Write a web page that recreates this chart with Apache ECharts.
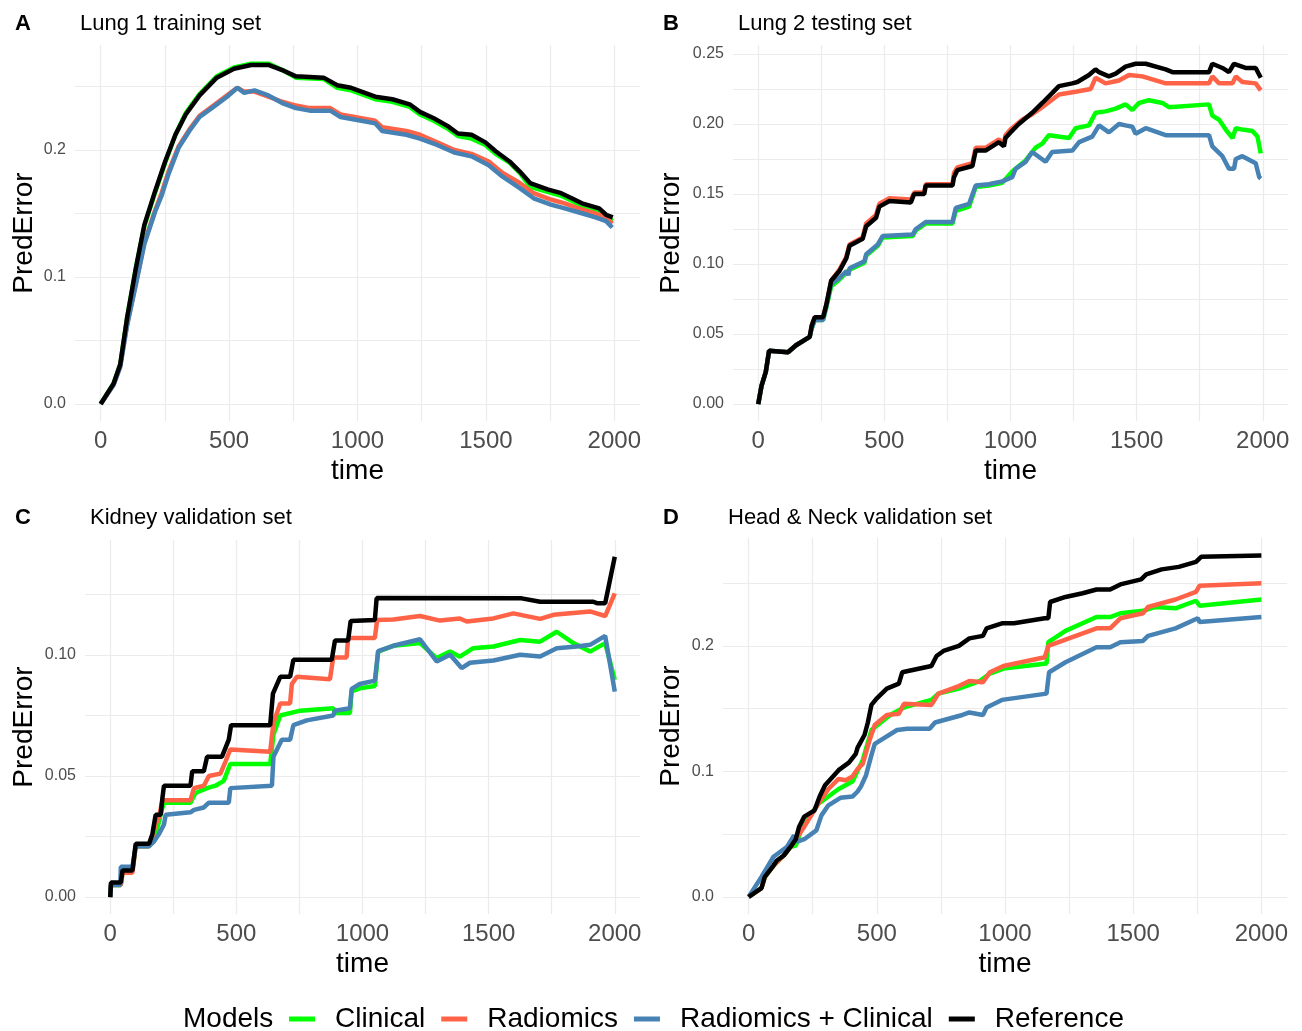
<!DOCTYPE html>
<html>
<head>
<meta charset="utf-8">
<script src="https://cdn.jsdelivr.net/npm/echarts@6/dist/echarts.min.js"></script>
<style>
  html, body { margin: 0; padding: 0; background: #fff; }
  #chart { width: 1302px; height: 1031px; }
</style>
</head>
<body>
<div id="chart"></div>
<script>
var modelNames = ['Clinical', 'Radiomics', 'Radiomics + Clinical', 'Reference'];
var modelColors = ['#00ff00', '#ff6347', '#4682b4', '#000000'];

// x axis: grid lines every 250, labels every 500
var timeTicks = [0, 250, 500, 750, 1000, 1250, 1500, 1750, 2000];
var timeLabels = [0, 500, 1000, 1500, 2000];

var yTicksTenth = [0, 0.05, 0.1, 0.15, 0.2, 0.25];
var yLabelsTenth = [0, 0.1, 0.2];
var yTicksLung2 = [0, 0.025, 0.05, 0.075, 0.1, 0.125, 0.15, 0.175, 0.2, 0.225, 0.25];
var yLabelsLung2 = [0, 0.05, 0.1, 0.15, 0.2, 0.25];
var yTicksKidney = [0, 0.025, 0.05, 0.075, 0.1, 0.125];
var yLabelsKidney = [0, 0.05, 0.1];

// A - Lung 1 training set  [time, PredError]
var lung1Clinical = [[0,0],[50,0.016],[76,0.031],[103,0.068],[137,0.107],[170,0.140],[211,0.166],[251,0.190],[291,0.212],[331,0.229],[385,0.244],[452,0.258],[519,0.265],[586,0.268],[653,0.268],[707,0.263],[760,0.257],[868,0.256],[921,0.249],[975,0.247],[1029,0.243],[1069,0.240],[1136,0.238],[1203,0.234],[1243,0.228],[1297,0.223],[1350,0.217],[1391,0.211],[1444,0.209],[1498,0.204],[1538,0.197],[1592,0.190],[1632,0.182],[1672,0.171],[1740,0.167],[1793,0.164],[1834,0.160],[1874,0.156],[1941,0.152],[1968,0.147],[1994,0.144]];
var lung1Radiomics = [[0,0],[50,0.015],[76,0.030],[103,0.063],[137,0.095],[170,0.127],[211,0.152],[237,0.166],[264,0.183],[304,0.203],[345,0.216],[385,0.227],[439,0.235],[492,0.243],[532,0.249],[559,0.246],[599,0.246],[653,0.242],[707,0.238],[760,0.235],[814,0.233],[894,0.233],[934,0.228],[1015,0.225],[1069,0.223],[1096,0.218],[1190,0.215],[1243,0.212],[1310,0.206],[1377,0.200],[1444,0.197],[1511,0.191],[1565,0.182],[1632,0.174],[1686,0.166],[1753,0.161],[1807,0.158],[1860,0.154],[1927,0.150],[1968,0.147],[1992,0.142]];
var lung1Combined = [[0,0],[50,0.015],[76,0.029],[103,0.062],[137,0.094],[170,0.126],[211,0.151],[237,0.164],[264,0.181],[304,0.202],[345,0.215],[385,0.226],[439,0.234],[492,0.242],[532,0.249],[559,0.245],[599,0.247],[653,0.243],[707,0.237],[760,0.233],[814,0.231],[894,0.231],[934,0.226],[1015,0.223],[1069,0.221],[1096,0.215],[1190,0.212],[1243,0.209],[1310,0.204],[1377,0.198],[1444,0.195],[1511,0.188],[1565,0.179],[1632,0.170],[1686,0.162],[1753,0.157],[1807,0.154],[1860,0.151],[1927,0.147],[1968,0.144],[1992,0.139]];
var lung1Reference = [[0,0],[50,0.016],[76,0.031],[103,0.068],[137,0.107],[170,0.141],[211,0.167],[251,0.191],[291,0.212],[331,0.228],[385,0.243],[452,0.257],[519,0.264],[586,0.267],[653,0.267],[707,0.263],[760,0.258],[868,0.257],[921,0.251],[975,0.249],[1029,0.245],[1069,0.242],[1136,0.240],[1203,0.236],[1243,0.230],[1297,0.225],[1350,0.219],[1391,0.213],[1444,0.212],[1498,0.206],[1538,0.199],[1592,0.191],[1632,0.183],[1672,0.174],[1740,0.169],[1793,0.166],[1834,0.162],[1874,0.158],[1941,0.154],[1968,0.149],[1994,0.147]];

// B - Lung 2 testing set
var lung2Clinical = [[0,0],[13,0.013],[30,0.023],[43,0.038],[118,0.037],[150,0.042],[204,0.048],[212,0.054],[224,0.060],[257,0.060],[270,0.069],[289,0.084],[322,0.089],[362,0.096],[421,0.101],[428,0.106],[474,0.113],[493,0.119],[612,0.120],[625,0.124],[664,0.129],[770,0.129],[783,0.138],[836,0.141],[862,0.155],[914,0.156],[967,0.158],[1007,0.166],[1060,0.174],[1099,0.183],[1126,0.186],[1152,0.192],[1232,0.190],[1258,0.197],[1311,0.199],[1337,0.208],[1377,0.209],[1417,0.211],[1456,0.214],[1483,0.210],[1509,0.215],[1549,0.217],[1602,0.215],[1628,0.212],[1787,0.214],[1800,0.206],[1827,0.203],[1853,0.196],[1880,0.190],[1893,0.197],[1919,0.196],[1959,0.195],[1979,0.191],[1992,0.179]];
var lung2Radiomics = [[0,0],[13,0.013],[30,0.023],[43,0.038],[118,0.037],[150,0.042],[204,0.048],[212,0.056],[224,0.062],[257,0.062],[270,0.071],[289,0.088],[322,0.096],[349,0.105],[362,0.114],[414,0.119],[428,0.129],[467,0.135],[480,0.143],[520,0.147],[605,0.146],[618,0.151],[658,0.151],[664,0.157],[770,0.157],[776,0.165],[789,0.169],[849,0.172],[862,0.183],[901,0.183],[954,0.189],[974,0.186],[980,0.192],[1000,0.196],[1046,0.203],[1086,0.207],[1126,0.212],[1192,0.221],[1258,0.223],[1318,0.225],[1337,0.233],[1377,0.229],[1430,0.231],[1470,0.235],[1523,0.234],[1615,0.229],[1787,0.229],[1800,0.234],[1827,0.229],[1880,0.229],[1893,0.234],[1919,0.230],[1972,0.229],[1992,0.224]];
var lung2Combined = [[0,0],[13,0.013],[30,0.023],[43,0.038],[118,0.037],[150,0.042],[204,0.048],[212,0.054],[224,0.060],[257,0.060],[270,0.070],[289,0.086],[322,0.090],[350,0.095],[358,0.092],[362,0.097],[421,0.102],[428,0.107],[474,0.114],[493,0.120],[612,0.121],[625,0.125],[664,0.130],[770,0.130],[783,0.140],[836,0.143],[862,0.156],[914,0.157],[967,0.159],[1007,0.162],[1020,0.168],[1060,0.173],[1086,0.180],[1139,0.173],[1165,0.180],[1245,0.181],[1272,0.187],[1324,0.191],[1351,0.199],[1390,0.194],[1430,0.200],[1456,0.199],[1483,0.198],[1496,0.193],[1536,0.197],[1615,0.192],[1787,0.192],[1800,0.184],[1840,0.177],[1866,0.168],[1886,0.168],[1893,0.175],[1919,0.177],[1972,0.172],[1986,0.162],[1992,0.161]];
var lung2Reference = [[0,0],[13,0.013],[30,0.023],[43,0.038],[118,0.037],[150,0.042],[204,0.048],[212,0.056],[224,0.062],[257,0.062],[270,0.071],[289,0.088],[322,0.095],[349,0.104],[362,0.113],[414,0.118],[428,0.127],[467,0.133],[480,0.141],[520,0.145],[605,0.144],[618,0.150],[658,0.150],[664,0.156],[770,0.156],[776,0.162],[789,0.167],[849,0.170],[862,0.181],[901,0.181],[954,0.187],[974,0.184],[980,0.190],[1000,0.194],[1033,0.200],[1086,0.208],[1126,0.215],[1165,0.222],[1192,0.227],[1245,0.229],[1265,0.230],[1311,0.235],[1337,0.239],[1351,0.237],[1390,0.234],[1417,0.236],[1456,0.241],[1496,0.243],[1536,0.243],[1615,0.239],[1642,0.237],[1787,0.237],[1800,0.243],[1840,0.240],[1866,0.237],[1886,0.243],[1932,0.240],[1972,0.240],[1992,0.233]];

// C - Kidney validation set
var kidneyClinical = [[0,0],[3,0.005],[42,0.005],[49,0.011],[88,0.011],[101,0.021],[154,0.021],[174,0.024],[193,0.031],[207,0.037],[213,0.039],[318,0.039],[338,0.043],[384,0.045],[417,0.046],[450,0.048],[476,0.055],[634,0.055],[647,0.067],[674,0.075],[753,0.077],[884,0.078],[891,0.076],[950,0.076],[957,0.085],[989,0.0862],[1049,0.0872],[1062,0.1014],[1122,0.1038],[1228,0.1049],[1294,0.0987],[1347,0.1014],[1386,0.0993],[1439,0.1028],[1519,0.1035],[1625,0.1062],[1704,0.1055],[1770,0.1096],[1836,0.1049],[1902,0.1014],[1962,0.1049],[2000,0.0897]];
var kidneyRadiomics = [[0,0],[3,0.005],[42,0.005],[49,0.010],[88,0.010],[101,0.021],[154,0.021],[167,0.025],[180,0.030],[193,0.033],[207,0.040],[318,0.040],[332,0.045],[371,0.046],[391,0.050],[437,0.051],[457,0.056],[476,0.061],[634,0.060],[647,0.072],[674,0.080],[713,0.080],[720,0.088],[740,0.091],[871,0.090],[884,0.099],[937,0.099],[943,0.107],[1049,0.107],[1058,0.1145],[1122,0.1147],[1228,0.1161],[1307,0.1142],[1386,0.1151],[1413,0.1138],[1519,0.1151],[1598,0.1172],[1704,0.1149],[1757,0.1166],[1902,0.118],[1962,0.1161],[2000,0.1255]];
var kidneyCombined = [[0,0],[3,0.005],[40,0.005],[42,0.0125],[88,0.0125],[101,0.021],[154,0.021],[174,0.023],[193,0.026],[213,0.030],[220,0.034],[318,0.035],[332,0.036],[371,0.037],[391,0.039],[470,0.039],[476,0.045],[641,0.046],[647,0.058],[680,0.065],[713,0.065],[726,0.071],[779,0.073],[884,0.075],[891,0.077],[950,0.078],[957,0.086],[989,0.088],[1049,0.0894],[1062,0.1016],[1122,0.1038],[1228,0.1065],[1294,0.0973],[1347,0.1001],[1393,0.0946],[1426,0.0968],[1519,0.0977],[1625,0.1001],[1704,0.0994],[1770,0.1028],[1849,0.1035],[1902,0.1042],[1962,0.1079],[2000,0.0849]];
var kidneyReference = [[0,0],[3,0.006],[42,0.006],[49,0.011],[88,0.011],[101,0.022],[154,0.022],[167,0.026],[180,0.034],[200,0.034],[207,0.041],[213,0.046],[318,0.046],[325,0.052],[371,0.052],[384,0.058],[443,0.058],[470,0.065],[479,0.071],[634,0.071],[645,0.084],[674,0.091],[713,0.091],[726,0.098],[878,0.098],[891,0.106],[943,0.106],[953,0.114],[1049,0.1145],[1056,0.1235],[1631,0.1234],[1704,0.122],[1915,0.122],[1929,0.1214],[1962,0.1214],[2000,0.1406]];

// D - Head & Neck validation set
var hnClinical = [[0,0],[50,0.007],[63,0.016],[97,0.025],[137,0.033],[164,0.040],[184,0.041],[204,0.053],[271,0.074],[351,0.086],[405,0.092],[445,0.109],[479,0.133],[552,0.145],[606,0.151],[713,0.157],[740,0.162],[820,0.166],[901,0.172],[941,0.178],[994,0.182],[1162,0.186],[1169,0.203],[1236,0.212],[1357,0.223],[1410,0.223],[1450,0.226],[1538,0.228],[1585,0.231],[1665,0.230],[1745,0.236],[1759,0.232],[2000,0.237]];
var hnRadiomics = [[0,0],[50,0.007],[63,0.016],[97,0.025],[137,0.033],[164,0.040],[197,0.050],[217,0.056],[271,0.074],[311,0.086],[351,0.094],[378,0.093],[405,0.096],[425,0.102],[445,0.106],[472,0.125],[492,0.137],[539,0.145],[586,0.146],[606,0.154],[713,0.153],[740,0.162],[820,0.168],[861,0.172],[914,0.171],[941,0.179],[994,0.184],[1155,0.191],[1169,0.200],[1357,0.214],[1410,0.214],[1450,0.222],[1538,0.226],[1558,0.231],[1665,0.237],[1745,0.243],[1759,0.248],[2000,0.250]];
var hnCombined = [[0,0],[50,0.016],[97,0.032],[150,0.040],[177,0.049],[190,0.044],[217,0.046],[264,0.053],[284,0.065],[311,0.073],[358,0.079],[405,0.080],[425,0.084],[438,0.088],[458,0.097],[479,0.113],[492,0.122],[579,0.133],[619,0.134],[706,0.134],[727,0.139],[834,0.145],[861,0.147],[914,0.145],[928,0.151],[988,0.157],[1162,0.162],[1172,0.179],[1236,0.187],[1357,0.199],[1410,0.199],[1450,0.203],[1538,0.204],[1558,0.208],[1665,0.214],[1752,0.222],[1759,0.219],[2000,0.223]];
var hnReference = [[0,0],[50,0.007],[63,0.016],[97,0.025],[110,0.029],[137,0.033],[164,0.040],[184,0.046],[197,0.056],[217,0.064],[257,0.069],[277,0.080],[298,0.089],[351,0.101],[391,0.107],[418,0.114],[425,0.119],[452,0.129],[465,0.139],[479,0.153],[499,0.158],[539,0.166],[586,0.170],[599,0.179],[713,0.184],[733,0.192],[760,0.196],[820,0.200],[861,0.206],[914,0.208],[928,0.214],[988,0.218],[1035,0.218],[1155,0.222],[1169,0.222],[1176,0.235],[1236,0.239],[1303,0.242],[1357,0.245],[1410,0.245],[1450,0.249],[1531,0.253],[1551,0.257],[1611,0.261],[1678,0.263],[1745,0.267],[1765,0.271],[2000,0.272]];

var panels = [
    { letter: 'A', title: 'Lung 1 training set', letterLeft: 10, left: 75, top: 45, width: 565, height: 376,
      yMin: -0.0134, yMax: 0.2827, yTicks: yTicksTenth, yLabels: yLabelsTenth, digits: 1, nameGap: 37,
      data: [lung1Clinical, lung1Radiomics, lung1Combined, lung1Reference] },
    { letter: 'B', title: 'Lung 2 testing set', letterLeft: 658, left: 733, top: 45, width: 555, height: 376,
      yMin: -0.0121, yMax: 0.2564, yTicks: yTicksLung2, yLabels: yLabelsLung2, digits: 2, nameGap: 48,
      data: [lung2Clinical, lung2Radiomics, lung2Combined, lung2Reference] },
    { letter: 'C', title: 'Kidney validation set', letterLeft: 10, left: 85, top: 540, width: 555, height: 374,
      yMin: -0.0070, yMax: 0.1475, yTicks: yTicksKidney, yLabels: yLabelsKidney, digits: 2, nameGap: 47,
      data: [kidneyClinical, kidneyRadiomics, kidneyCombined, kidneyReference] },
    { letter: 'D', title: 'Head & Neck validation set', letterLeft: 658, left: 723, top: 538, width: 564, height: 376,
      yMin: -0.0136, yMax: 0.2860, yTicks: yTicksTenth, yLabels: yLabelsTenth, digits: 1, nameGap: 38,
      data: [hnClinical, hnRadiomics, hnCombined, hnReference] }
];

var fontFamily = 'Liberation Sans, Arial, sans-serif';
var gridLine = { show: true, lineStyle: { color: '#ebebeb', width: 1.2 } };

var grids = [], xAxes = [], yAxes = [], series = [], titles = [];

panels.forEach(function (p, i) {
    grids.push({ left: p.left, top: p.top, width: p.width, height: p.height, containLabel: false });

    xAxes.push({
        gridIndex: i, type: 'value', min: -100, max: 2100,
        name: 'time', nameLocation: 'middle', nameGap: 36,
        nameTextStyle: { fontSize: 28, color: '#000', fontFamily: fontFamily },
        axisLine: { show: false },
        axisTick: { show: false, customValues: timeTicks },
        splitLine: gridLine,
        axisLabel: {
            customValues: timeLabels, fontSize: 24, color: '#4d4d4d', margin: 8, fontFamily: fontFamily,
            formatter: function (v) { return String(v); }
        }
    });

    yAxes.push({
        gridIndex: i, type: 'value', min: p.yMin, max: p.yMax,
        name: 'PredError', nameLocation: 'middle', nameGap: p.nameGap,
        nameTextStyle: { fontSize: 28, color: '#000', fontFamily: fontFamily },
        axisLine: { show: false },
        axisTick: { show: false, customValues: p.yTicks },
        splitLine: gridLine,
        axisLabel: {
            customValues: p.yLabels, fontSize: 16, color: '#4d4d4d', margin: 9, fontFamily: fontFamily,
            formatter: (function (d) { return function (v) { return v.toFixed(d); }; })(p.digits)
        }
    });

    p.data.forEach(function (d, k) {
        series.push({
            name: modelNames[k], type: 'line', xAxisIndex: i, yAxisIndex: i,
            data: d, showSymbol: false, symbol: 'none',
            lineStyle: { color: modelColors[k], width: 4.5 },
            itemStyle: { color: modelColors[k] },
            z: 2 + k, animation: false
        });
    });

    var ty = p.top < 100 ? 8 : 502;
    titles.push({ text: p.letter, left: p.letterLeft, top: ty,
        textStyle: { fontSize: 22, fontWeight: 'bold', color: '#000', fontFamily: fontFamily } });
    titles.push({ text: p.title, left: p.left, top: ty,
        textStyle: { fontSize: 22, fontWeight: 'normal', color: '#000', fontFamily: fontFamily } });
});

titles.push({ text: 'Models', left: 178, top: 1000,
    textStyle: { fontSize: 28, fontWeight: 'normal', color: '#000', fontFamily: fontFamily } });

var chart = echarts.init(document.getElementById('chart'));
chart.setOption({
    backgroundColor: '#fff',
    animation: false,
    title: titles,
    grid: grids,
    xAxis: xAxes,
    yAxis: yAxes,
    legend: {
        data: modelNames, left: 284, top: 1000,
        icon: 'rect', itemWidth: 26, itemHeight: 5, itemGap: 16,
        textStyle: { fontSize: 28, color: '#000', fontFamily: fontFamily, padding: [0, 0, 0, 15] }
    },
    series: series
});
</script>
</body>
</html>
